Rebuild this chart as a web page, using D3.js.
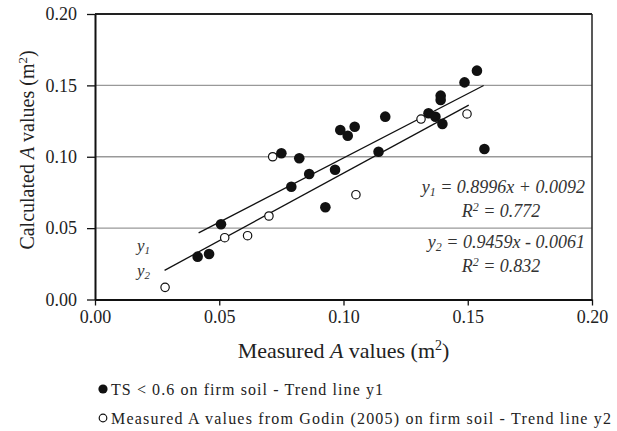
<!DOCTYPE html>
<html>
<head>
<meta charset="utf-8">
<script src="https://cdn.jsdelivr.net/npm/d3@7"></script>
<style>
  body { margin: 0; background: #fff; }
  svg { display: block; }
  svg text { font-family: "Liberation Serif", "Times New Roman", serif; }
</style>
</head>
<body>
<div id="chart"></div>
<script>
// TS < 0.6 on firm soil (filled dots)
var tsX = [0.0413, 0.0459, 0.0507, 0.0750, 0.0790, 0.0822, 0.0862, 0.0927, 0.0966, 0.0987, 0.1017,
           0.1045, 0.1141, 0.1168, 0.1342, 0.1370, 0.1391, 0.1391, 0.1398, 0.1487, 0.1537, 0.1567];
var tsY = [0.0300, 0.0319, 0.0527, 0.1024, 0.0790, 0.0989, 0.0879, 0.0646, 0.0909, 0.1187, 0.1147,
           0.1210, 0.1035, 0.1281, 0.1305, 0.1280, 0.1428, 0.1398, 0.1230, 0.1521, 0.1603, 0.1054];

// Godin (2005) measured values (open dots)
var godinX = [0.0282, 0.0522, 0.0614, 0.0700, 0.0715, 0.1050, 0.1312, 0.1497];
var godinY = [0.0085, 0.0433, 0.0447, 0.0585, 0.1000, 0.0734, 0.1264, 0.1300];

// trend line end points
var trend1X = [0.0417, 0.1564];
var trend1Y = [0.0467, 0.1499];
var trend2X = [0.0280, 0.1504];
var trend2Y = [0.0204, 0.1362];

var ticks = [0, 0.05, 0.10, 0.15, 0.20];
var gridValues = [0.05, 0.10, 0.15];

var width = 617, height = 431;
var margin = { top: 14, right: 25, bottom: 131.5, left: 95 };
var serif = "'Liberation Serif', 'Times New Roman', serif";

var svg = d3.select("#chart").append("svg")
    .attr("width", width)
    .attr("height", height);

var x = d3.scaleLinear().domain([0, 0.2]).range([margin.left, width - margin.right]);
var y = d3.scaleLinear().domain([0, 0.2]).range([height - margin.bottom, margin.top]);

// grid lines
svg.append("g").selectAll("line")
    .data(gridValues)
    .enter().append("line")
    .attr("x1", x(0)).attr("x2", x(0.2))
    .attr("y1", d => y(d)).attr("y2", d => y(d))
    .attr("stroke", "#999")
    .attr("stroke-width", 1.3);

// top and right border
svg.append("line")
    .attr("x1", x(0)).attr("x2", x(0.2))
    .attr("y1", y(0.2)).attr("y2", y(0.2))
    .attr("stroke", "#222").attr("stroke-width", 2);
svg.append("line")
    .attr("x1", x(0.2)).attr("x2", x(0.2))
    .attr("y1", y(0.2)).attr("y2", y(0))
    .attr("stroke", "#222").attr("stroke-width", 1.5);

// axes
var xAxis = svg.append("g")
    .attr("transform", "translate(0," + y(0) + ")")
    .call(d3.axisBottom(x).tickValues(ticks).tickFormat(d3.format(".2f")).tickSize(6).tickSizeOuter(0).tickPadding(5));
var yAxis = svg.append("g")
    .attr("transform", "translate(" + x(0) + ",0)")
    .call(d3.axisLeft(y).tickValues(ticks).tickFormat(d3.format(".2f")).tickSize(8).tickSizeOuter(0).tickPadding(10));

[xAxis, yAxis].forEach(function (ax) {
    ax.attr("font-family", serif).attr("font-size", 18);
    ax.select(".domain").attr("stroke", "#111").attr("stroke-width", 2);
    ax.selectAll(".tick line").attr("stroke", "#111").attr("stroke-width", 1.3);
    ax.selectAll(".tick text").attr("fill", "#222");
});

// trend lines
var line = d3.line().x(d => x(d[0])).y(d => y(d[1]));
svg.append("path")
    .attr("d", line(d3.zip(trend1X, trend1Y)))
    .attr("stroke", "#111").attr("stroke-width", 1.3).attr("fill", "none");
svg.append("path")
    .attr("d", line(d3.zip(trend2X, trend2Y)))
    .attr("stroke", "#111").attr("stroke-width", 1.3).attr("fill", "none");

// points
svg.append("g").selectAll("circle")
    .data(d3.zip(godinX, godinY))
    .enter().append("circle")
    .attr("cx", d => x(d[0])).attr("cy", d => y(d[1]))
    .attr("r", 4.2)
    .attr("fill", "#fff")
    .attr("stroke", "#111")
    .attr("stroke-width", 1.2);

svg.append("g").selectAll("circle")
    .data(d3.zip(tsX, tsY))
    .enter().append("circle")
    .attr("cx", d => x(d[0])).attr("cy", d => y(d[1]))
    .attr("r", 5.3)
    .attr("fill", "#111");

// y1 / y2 labels near the lines
function yLabel(sub, px, py) {
    var t = svg.append("text")
        .attr("x", px).attr("y", py)
        .attr("fill", "#333")
        .style("font-style", "italic")
        .style("font-size", "17px");
    t.append("tspan").text("y");
    t.append("tspan").attr("dy", 3).style("font-size", "11px").text(sub);
}
yLabel("1", 137, 251);
yLabel("2", 137, 276);

// equations
function equation(sub, rest, r2, py) {
    var t = svg.append("text")
        .attr("x", 585).attr("y", py)
        .attr("text-anchor", "end")
        .attr("fill", "#333")
        .style("font-style", "italic")
        .style("font-size", "18px");
    t.append("tspan").text("y");
    t.append("tspan").attr("dy", 3).style("font-size", "12px").text(sub);
    t.append("tspan").attr("dy", -3).text(rest);

    var r = svg.append("text")
        .attr("x", 501).attr("y", py + 24)
        .attr("text-anchor", "middle")
        .attr("fill", "#333")
        .style("font-style", "italic")
        .style("font-size", "18px");
    r.append("tspan").text("R");
    r.append("tspan").attr("dy", -6).style("font-size", "12px").text("2");
    r.append("tspan").attr("dy", 6).text(" = " + r2);
}
equation("1", " = 0.8996x + 0.0092", "0.772", 193);
equation("2", " = 0.9459x - 0.0061", "0.832", 248);

// axis titles
var xt = svg.append("text")
    .attr("x", (x(0) + x(0.2)) / 2).attr("y", 358)
    .attr("text-anchor", "middle")
    .attr("fill", "#222")
    .style("font-size", "22px");
xt.append("tspan").text("Measured ");
xt.append("tspan").style("font-style", "italic").text("A");
xt.append("tspan").text(" values (m");
xt.append("tspan").attr("dy", -8).style("font-size", "14px").text("2");
xt.append("tspan").attr("dy", 8).text(")");

var yt = svg.append("text")
    .attr("transform", "translate(34," + 150 + ") rotate(-90)")
    .attr("text-anchor", "middle")
    .attr("fill", "#222")
    .style("font-size", "20px");
yt.append("tspan").text("Calculated ");
yt.append("tspan").style("font-style", "italic").text("A");
yt.append("tspan").text(" values (m");
yt.append("tspan").attr("dy", -7).style("font-size", "13px").text("2");
yt.append("tspan").attr("dy", 7).text(")");

// legend
var legendRows = [
    { label: "TS < 0.6 on firm soil - Trend line  y1", filled: true, cy: 389, len: 272 },
    { label: "Measured A values from Godin (2005) on firm soil - Trend line y2", filled: false, cy: 418, len: 500 }
];
var legend = svg.append("g").selectAll("g")
    .data(legendRows)
    .enter().append("g");
legend.append("circle")
    .attr("cx", 103).attr("cy", d => d.cy)
    .attr("r", d => d.filled ? 4.6 : 3.8)
    .attr("fill", d => d.filled ? "#111" : "#fff")
    .attr("stroke", "#111")
    .attr("stroke-width", d => d.filled ? 0 : 1.2);
legend.append("text")
    .attr("x", 111).attr("y", d => d.cy + 6)
    .attr("fill", "#222")
    .attr("textLength", d => d.len)
    .attr("lengthAdjust", "spacing")
    .style("font-size", "16px")
    .text(d => d.label);
</script>
</body>
</html>
